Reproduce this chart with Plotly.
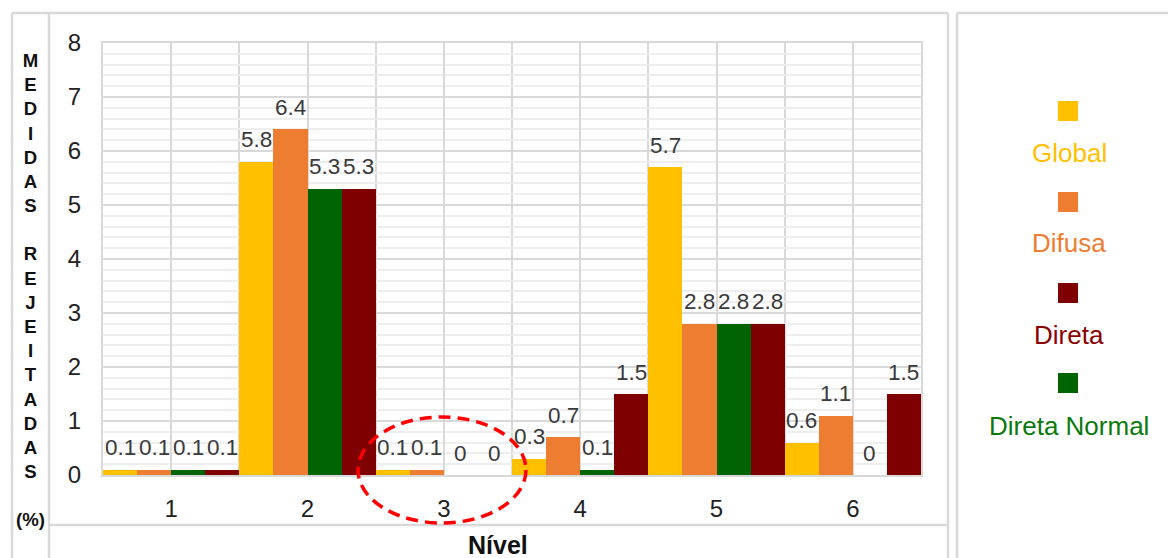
import plotly.graph_objects as go

# Rejected measurements (%) per level, one list per rejection type
niveis = [1, 2, 3, 4, 5, 6]
nivel_labels = ["1", "2", "3", "4", "5", "6"]
global_vals = [0.1, 5.8, 0.1, 0.3, 5.7, 0.6]
difusa_vals = [0.1, 6.4, 0.1, 0.7, 2.8, 1.1]
direta_normal_vals = [0.1, 5.3, 0, 0.1, 2.8, 0]
direta_vals = [0.1, 5.3, 0, 1.5, 2.8, 1.5]

series = [
    ("Global", global_vals, "#FFC000"),
    ("Difusa", difusa_vals, "#ED7D31"),
    ("Direta Normal", direta_normal_vals, "#006400"),
    ("Direta", direta_vals, "#7F0000"),
]

# legend entries: label, swatch colour, text colour
legend_items = [
    ("Global", "#FFC000", "#FFC000"),
    ("Difusa", "#ED7D31", "#ED7D31"),
    ("Direta", "#7F0000", "#8B0000"),
    ("Direta Normal", "#006400", "#0A7A0A"),
]

FONT = "Liberation Sans, Arial, sans-serif"
W, H = 1168, 558
ML, MR, MT, MB = 103, 247, 43, 83
PW, PH = W - ML - MR, H - MT - MB


def px(x):
    return (x - ML) / PW


def py(y):
    return (H - MB - y) / PH


fig = go.Figure()
for name, vals, color in series:
    fig.add_trace(go.Bar(
        x=niveis, y=vals, name=name,
        marker=dict(color=color, line=dict(width=0)),
        showlegend=False,
    ))

annotations = []
shapes = []

# value labels above each bar
n = len(series)
for i, (name, vals, color) in enumerate(series):
    off = -0.5 + (i + 0.5) / n
    for xv, v in zip(niveis, vals):
        annotations.append(dict(
            x=xv + off, y=v, xref="x", yref="y",
            text=f"{v:g}", showarrow=False,
            yanchor="middle", yshift=22,
            font=dict(family=FONT, size=22.5, color="#3A3A3A"),
        ))

# stacked vertical axis title
title_lines = list("MEDIDAS") + [""] + list("REJEITADAS") + ["", "(%)"]
annotations.append(dict(
    x=px(30), y=py(289.5), xref="paper", yref="paper",
    text="<br>".join(title_lines), showarrow=False,
    xanchor="center", yanchor="middle", align="center",
    font=dict(family=FONT, size=18.6, color="#111111", weight="bold"),
))

# horizontal axis title
annotations.append(dict(
    x=px(498), y=py(545), xref="paper", yref="paper",
    text="<b>Nível</b>", showarrow=False,
    xanchor="center", yanchor="middle",
    font=dict(family=FONT, size=25, color="#111111"),
))

# legend: swatch above coloured label
sw_y = [111, 202, 293, 383]
tx_y = [153, 243, 335, 426]
for (label, sw, tc), sy, ty in zip(legend_items, sw_y, tx_y):
    shapes.append(dict(
        type="rect", xref="paper", yref="paper",
        x0=px(1058), x1=px(1078), y0=py(sy - 10), y1=py(sy + 10),
        fillcolor=sw, line=dict(width=0),
    ))
    annotations.append(dict(
        x=px(1069), y=py(ty), xref="paper", yref="paper",
        text=label, showarrow=False, xanchor="center", yanchor="middle",
        font=dict(family=FONT, size=26, color=tc),
    ))

# frame boxes around title column, chart and legend
frame = dict(color="#D9D9D9", width=2.5)
for x0, y0, x1, y1 in [
    (12, 13, 12, 560), (49, 13, 49, 560), (12, 13, 948, 13),
    (948, 13, 948, 560), (49, 525, 948, 525),
    (957, 13, 957, 560), (957, 13, 1170, 13),
]:
    shapes.append(dict(
        type="line", xref="paper", yref="paper",
        x0=px(x0), y0=py(y0), x1=px(x1), y1=py(y1), line=frame,
    ))

# dashed highlight around level 3
shapes.append(dict(
    type="circle", xref="paper", yref="paper",
    x0=px(358), x1=px(526), y0=py(523), y1=py(417),
    line=dict(color="#FF0000", width=3.5, dash="12px,7px"),
    fillcolor="rgba(0,0,0,0)",
))

fig.update_layout(
    width=W, height=H,
    margin=dict(l=ML, r=MR, t=MT, b=MB),
    paper_bgcolor="white", plot_bgcolor="white",
    barmode="group", bargap=0, bargroupgap=0,
    annotations=annotations, shapes=shapes,
    font=dict(family=FONT),
    xaxis=dict(
        range=[0.5, 6.5], tickvals=niveis, ticktext=nivel_labels,
        showgrid=True, gridcolor="#D9D9D9", gridwidth=2,
        minor=dict(tick0=0.5, dtick=0.5, showgrid=True,
                   gridcolor="#D9D9D9", gridwidth=2),
        showline=True, mirror=True, linecolor="#D9D9D9", linewidth=2,
        ticks="outside", ticklen=11, tickcolor="rgba(0,0,0,0)",
        tickfont=dict(family=FONT, size=24, color="#222222"),
        zeroline=False, fixedrange=True,
    ),
    yaxis=dict(
        range=[0, 8], dtick=1, tick0=0,
        showgrid=True, gridcolor="#D9D9D9", gridwidth=2,
        minor=dict(dtick=0.2, showgrid=True, gridcolor="#EEEEEE", gridwidth=2),
        showline=True, mirror=True, linecolor="#D9D9D9", linewidth=2,
        ticks="outside", ticklen=15, tickcolor="rgba(0,0,0,0)",
        tickfont=dict(family=FONT, size=24, color="#222222"),
        zeroline=False, fixedrange=True,
    ),
)

fig.write_html("out.html")
